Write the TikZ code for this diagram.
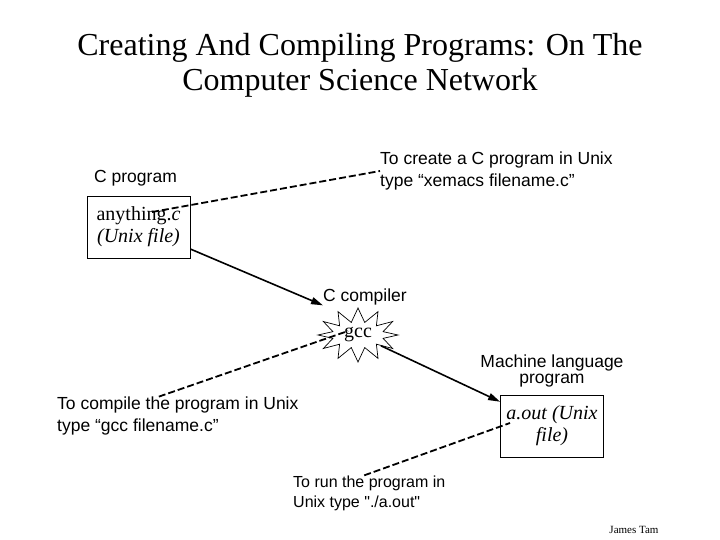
\documentclass[tikz,border=0pt]{standalone}
\usepackage{fontspec}
\setmainfont{Liberation Serif}
\setsansfont{Liberation Sans}
\newfontfamily\plainsans{Liberation Sans}
\usetikzlibrary{arrows.meta,positioning,shapes.symbols}

\begin{document}
\begin{tikzpicture}[x=1pt,y=-1pt,
    titletext/.style={font=\fontsize{32}{35}\selectfont,align=center,inner sep=0pt},
    lbl/.style={font=\sffamily\fontsize{17.5}{22}\selectfont,align=left,inner sep=0pt},
    filebox/.style={draw,line width=0.8pt,minimum width=103pt,minimum height=62pt,align=center,font=\fontsize{20}{22}\selectfont},
    burst/.style={starburst,draw,line width=0.7pt,starburst points=12,starburst point height=14pt,minimum width=80pt,minimum height=54pt,random starburst=0,font=\fontsize{20}{22}\selectfont,inner sep=0pt},
    arr/.style={-{Triangle[length=12pt,width=7pt]},line width=1.6pt},
    ptr/.style={dash pattern=on 7pt off 3pt,line width=1.8pt}
  ]
  \useasboundingbox (0,0) rectangle (720,540);
  \node[titletext] (title) at (360,65) {Creating And Compiling Programs: On The\\Computer Science Network};
  % C source file
  \node[lbl,anchor=west] (cprog) at (94,178) {C program};
  \node[lbl,anchor=west] (create) at (380,171) {To create a C program in Unix\\type “xemacs filename.c”};
  \node[filebox] (anything) at (138.5,227) {anything.\textit{c}\\\textit{(Unix file)}};
  % compiler
  \node[lbl,anchor=west] (compiler) at (323,297) {C compiler};
  \node[burst] (gcc) at (358,335) {gcc};
  \node[lbl,anchor=west] (compile) at (57,416) {To compile the program in Unix\\type “gcc filename.c”};
  % executable
  \node[lbl,align=center,font=\sffamily\fontsize{17.5}{16.5}\selectfont] (machine) at (552,371) {Machine language\\program};
  \node[filebox] (aout) at (552,426) {\textit{a.out (Unix}\\\textit{file)}};
  \node[lbl,anchor=west,font=\plainsans\fontsize{16}{20}\selectfont] (run) at (293,493) {To run the program in\\Unix type "./a.out"};
  \node[font=\fontsize{11}{13}\selectfont] (author) at (634,530) {James Tam};
  \coordinate (anyptr) at (152,212);
  \coordinate (gccptr) at (348,331);
  \coordinate (aoutptr) at (510,423);
  \draw[ptr] (anyptr) -- (create.west); \draw[ptr] ([xshift=-19pt]compile.north) -- (gccptr); \draw[ptr] ([xshift=-5pt]run.north) -- (aoutptr);
  \draw[arr] (anything) -- (compiler.south west); \draw[arr] (gcc) -- (aout);
\end{tikzpicture}
\end{document}
